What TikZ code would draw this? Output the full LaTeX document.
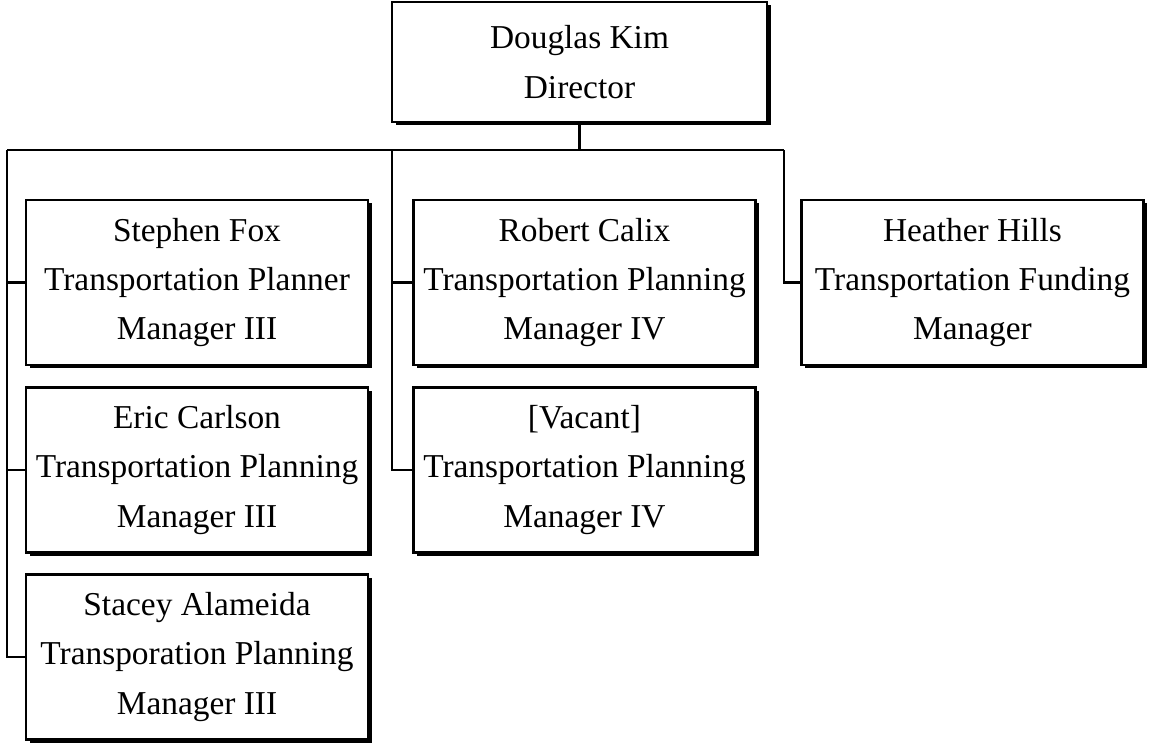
\documentclass[tikz,border=0pt]{standalone}
\usepackage{fontspec}
\setmainfont{Liberation Serif}
\usetikzlibrary{%
  shadows,%
  positioning% wg. " of "
}

\begin{document}
\begin{tikzpicture}
[draw=black, line width=1.3pt,
person/.style={rectangle, draw, fill=white, inner sep=0pt, align=center,
  minimum width=6.84cm, minimum height=3.3cm,
  font=\fontsize{19}{28}\selectfont,
  drop shadow={shadow xshift=0.07cm, shadow yshift=-0.07cm, fill=black, opacity=1}},
chief/.style={person, minimum width=7.5cm, minimum height=2.4cm},
link/.style={draw, line width=1.3pt}]

\useasboundingbox (0,0) rectangle (22.98,14.92);

\node[chief] (kim) at (11.59,13.68) {Douglas Kim\\Director};

\node[person] (fox) at (3.94,9.27) {Stephen Fox\\Transportation Planner\\Manager III};
\node[person] (carlson) at (3.94,5.52) {Eric Carlson\\Transportation Planning\\Manager III};
\node[person] (alameida) at (3.94,1.78) {Stacey Alameida\\Transporation Planning\\Manager III};

\node[person] (calix) at (11.69,9.27) {Robert Calix\\Transportation Planning\\Manager IV};
\node[person] (vacant) at (11.69,5.52) {[Vacant]\\Transportation Planning\\Manager IV};

\node[person] (hills) at (19.45,9.27) {Heather Hills\\Transportation Funding\\Manager};

\coordinate (busL) at (0.14,11.92);
\coordinate (busM) at (7.84,11.92);
\coordinate (busR) at (15.68,11.92);

\draw[link] (kim.south) -- (kim.south |- busL);
\draw[link] (busL) -- (busR);

\draw[link] (busL) |- (fox.west);
\draw[link] (busL) |- (carlson.west);
\draw[link] (busL) |- (alameida.west);

\draw[link] (busM) |- (calix.west);
\draw[link] (busM) |- (vacant.west);

\draw[link] (busR) |- (hills.west);
\end{tikzpicture}
\end{document}
